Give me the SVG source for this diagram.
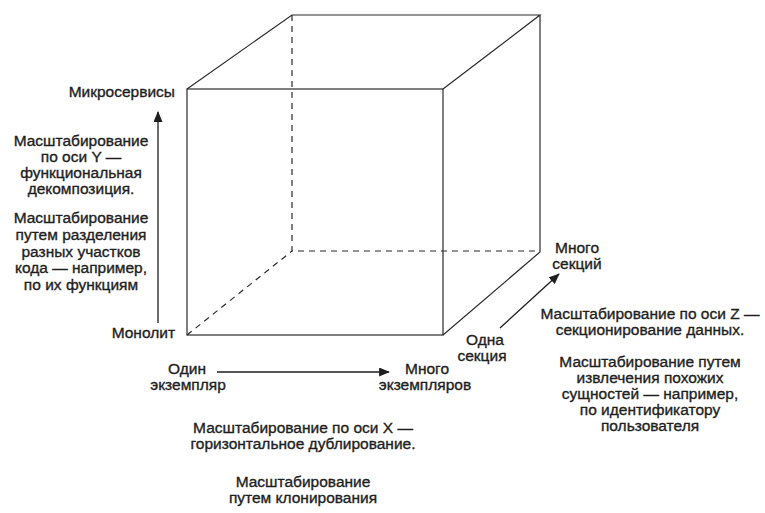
<svg xmlns="http://www.w3.org/2000/svg" width="765" height="513" viewBox="0 0 765 513">
<defs>
<style>
text{font-family:"Liberation Sans",Arial,sans-serif;font-size:15.5px;fill:#1e1e1e;stroke:#1e1e1e;stroke-width:0.35;text-anchor:middle}
.e{text-anchor:end}
.s{stroke:#2a2a2a;stroke-width:1.2;fill:none}
.d{stroke:#2a2a2a;stroke-width:1.2;fill:none;stroke-dasharray:6 5}
.a{stroke:#1e1e1e;stroke-width:1.3;fill:none}
</style>
<marker id="ah" viewBox="0 0 12 10" refX="11" refY="5" markerWidth="11" markerHeight="9" markerUnits="userSpaceOnUse" orient="auto">
<path d="M0,0 L12,5 L0,10 z" fill="#1e1e1e"/>
</marker>
</defs>
<rect width="765" height="513" fill="#fff"/>
<g id="cube">
<path class="d" d="M292,15 V251 H540 M187,335 L292,251"/>
<rect class="s" x="187" y="89" width="256" height="246"/>
<path class="s" d="M187,89 L292,15 H540 L443,89 M540,15 V252 L443,335"/>
</g>
<g id="connectors">
<line class="a" x1="158" y1="323" x2="158" y2="112" marker-end="url(#ah)"/>
<line class="a" x1="217" y1="372" x2="389" y2="372" marker-end="url(#ah)"/>
<line class="a" x1="500" y1="328" x2="559" y2="274" marker-end="url(#ah)"/>
</g>
<g id="y-labels">
<text class="e" x="175" y="97">Микросервисы</text>
<text class="e" x="175" y="338">Монолит</text>
<text x="81" y="146">Масштабирование</text>
<text x="81" y="162">по оси Y —</text>
<text x="81" y="178">функциональная</text>
<text x="81" y="194">декомпозиция.</text>
<text x="81" y="223">Масштабирование</text>
<text x="81" y="240">путем разделения</text>
<text x="81" y="257">разных участков</text>
<text x="81" y="273">кода — например,</text>
<text x="81" y="290">по их функциям</text>
</g>
<g id="x-labels">
<text x="187" y="374">Один</text>
<text x="188" y="390">экземпляр</text>
<text x="427" y="374">Много</text>
<text x="425" y="390">экземпляров</text>
<text x="303" y="433">Масштабирование по оси X —</text>
<text x="303" y="449">горизонтальное дублирование.</text>
<text x="303" y="487">Масштабирование</text>
<text x="303" y="503">путем клонирования</text>
</g>
<g id="z-labels">
<text x="577" y="253">Много</text>
<text x="577" y="269">секций</text>
<text x="485" y="345">Одна</text>
<text x="482" y="361">секция</text>
<text x="650" y="319">Масштабирование по оси Z —</text>
<text x="650" y="335">секционирование данных.</text>
<text x="650" y="367">Масштабирование путем</text>
<text x="650" y="383">извлечения похожих</text>
<text x="650" y="399">сущностей — например,</text>
<text x="650" y="415">по идентификатору</text>
<text x="650" y="431">пользователя</text>
</g>
</svg>
